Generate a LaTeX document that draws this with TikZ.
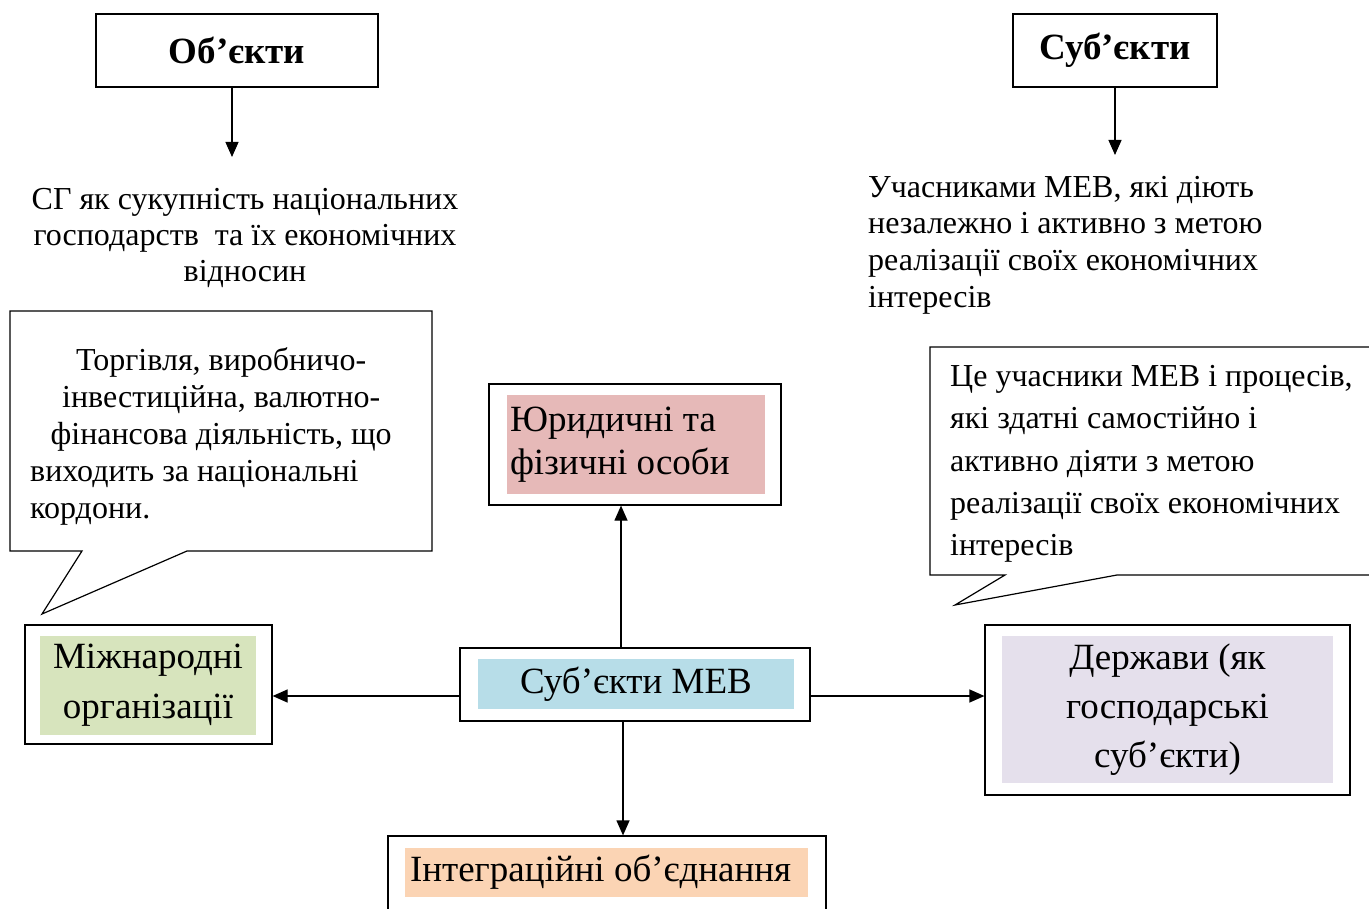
\documentclass[tikz,border=0pt]{standalone}
\usepackage{fontspec}
\setmainfont{Liberation Serif}
\usepackage{tikz}
\usetikzlibrary{arrows.meta}

\definecolor{urpink}{HTML}{E6B9B8}
\definecolor{mebblue}{HTML}{B7DDE8}
\definecolor{orggreen}{HTML}{D7E4BD}
\definecolor{statelilac}{HTML}{E5E0EC}
\definecolor{intpeach}{HTML}{FBD4B4}

\begin{document}
\begin{tikzpicture}[x=1pt,y=-1pt,
    box/.style={draw, line width=1.2pt, inner sep=0pt},
    infill/.style={inner sep=3pt},
    arr/.style={line width=1.2pt, -{Triangle[width=13pt,length=15pt]}},
    big/.style={font=\fontsize{37}{43}\selectfont},
    small/.style={font=\fontsize{32}{36}\selectfont},
    title/.style={font=\fontsize{37}{43}\selectfont\bfseries}]
    \useasboundingbox (0,0) rectangle (1369,909);

    % Objects - left column
    \node[box, title, minimum width=282pt, minimum height=73pt] (obj) at (237,50.5) {Об’єкти};
    \coordinate (objend) at (232,157);
    \draw[arr] (obj.south -| objend) -- (objend);
    \node[small, align=center, inner sep=0pt] (objtext) at (245,238) {СГ як сукупність національних\\господарств \ та їх економічних\\відносин};

    % Subjects - right column
    \node[box, title, minimum width=204pt, minimum height=73pt] (subj) at (1115,50.5) {Суб’єкти};
    \coordinate (subjend) at (1115,155);
    \draw[arr] (subj.south) -- (subjend);
    \node[anchor=west, inner sep=0pt, font=\fontsize{32}{36.7}\selectfont, align=left] (subjtext) at (868,245)
        {Учасниками МЕВ, які діють\\незалежно і активно з метою\\реалізації своїх економічних\\інтересів};

    % Callout - activity
    \draw[line width=1.2pt] (10,311) -- (432,311) -- (432,551) -- (187,551) -- (42,614) -- (82,551) -- (10,551) -- cycle;
    \node[anchor=west, inner sep=0pt, font=\fontsize{32}{37}\selectfont, align=left] (trade) at (30,436)
        {\makebox[382pt]{Торгівля, виробничо-}\\\makebox[382pt]{інвестиційна, валютно-}\\\makebox[382pt]{фінансова діяльність, що}\\виходить за національні\\кордони.};

    % Callout - definition
    \draw[line width=1.2pt] (1375,347) -- (930,347) -- (930,575) -- (1005,575) -- (955,605) -- (1117,575) -- (1375,575);
    \node[anchor=west, inner sep=0pt, font=\fontsize{32}{42.2}\selectfont, align=left] (def) at (950,464)
        {Це учасники МЕВ і процесів,\\які здатні самостійно і\\активно діяти з метою\\реалізації своїх економічних\\інтересів};

    % Subjects of MEV and their kinds
    \node[box, minimum width=350pt, minimum height=73pt] (meb) at (635,684.5) {};
    \node[infill, fill=mebblue, big, minimum width=316pt, minimum height=50pt] (mebin) at (636,684) {Суб’єкти МЕВ};

    \node[box, minimum width=292pt, minimum height=121pt] (ur) at (635,444.5) {};
    \node[infill, fill=urpink, big, minimum height=99pt, text width=252pt, align=flush left] (urin) at (636,444.5) {Юридичні та\\фізичні особи};

    \node[box, minimum width=247pt, minimum height=119pt] (org) at (148.5,684.5) {};
    \node[infill, fill=orggreen, font=\fontsize{37}{50}\selectfont, minimum width=216pt, minimum height=99pt, align=center] (orgin) at (148,685.5) {Міжнародні\\організації};

    \node[box, minimum width=365pt, minimum height=170pt] (state) at (1167.5,710) {};
    \node[infill, fill=statelilac, font=\fontsize{37}{49}\selectfont, minimum width=331pt, minimum height=147pt, align=center] (statein) at (1167.5,709.5) {Держави (як\\господарські\\суб’єкти)};

    \node[box, minimum width=438pt, minimum height=100pt] (integr) at (607,886) {};
    \node[infill, inner xsep=5pt, fill=intpeach, big, text width=393pt, minimum height=49pt, align=flush left] (integrin) at (606.5,872.5) {Інтеграційні об’єднання};

    % Arrows from the centre
    \draw[arr] ([xshift=-14pt]meb.north) -- ([xshift=-14pt]meb.north |- ur.south);
    \draw[arr] ([yshift=-11.5pt]meb.west) -- ([yshift=-11.5pt]meb.west -| org.east);
    \draw[arr] ([yshift=-11.5pt]meb.east) -- ([yshift=-11.5pt]meb.east -| state.west);
    \draw[arr] ([xshift=-12pt]meb.south) -- ([xshift=-12pt]meb.south |- integr.north);
\end{tikzpicture}
\end{document}
